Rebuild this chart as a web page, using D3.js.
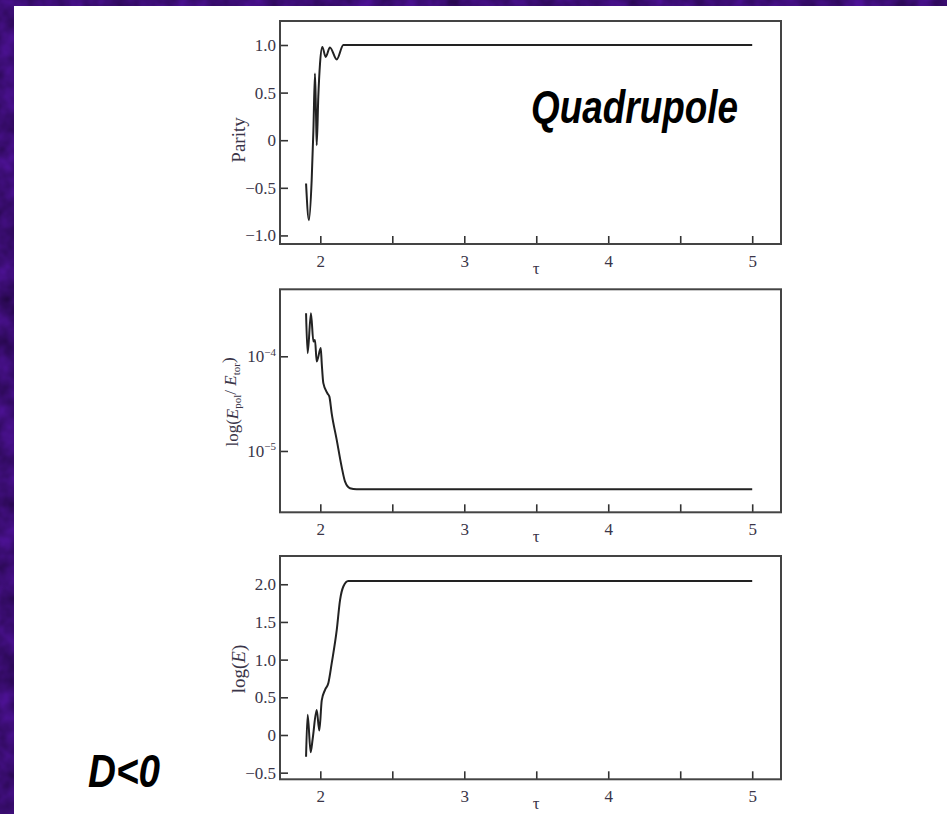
<!DOCTYPE html>
<html>
<head>
<meta charset="utf-8">
<script src="https://cdn.jsdelivr.net/npm/d3@7"></script>
<style>
  html, body { margin: 0; padding: 0; background: #3a0c78; }
  svg { display: block; }
</style>
</head>
<body>
<svg id="chart" width="947" height="814"></svg>
<script>
// Time axis τ (shared by all three panels)
const tauTicks = [2, 2.5, 3, 3.5, 4, 4.5, 5];
const tauLabels = ["2", "", "3", "", "4", "", "5"];

// Panel 1: parity vs τ
const parityTau = [1.901, 1.921, 1.940, 1.952, 1.963, 1.970, 1.975, 1.986, 1.998, 2.014, 2.037, 2.067, 2.114, 2.160, 2.180, 5.0];
const parityVal = [-0.455, -0.840, -0.42, 0.105, 0.70, 0.28, -0.053, 0.455, 0.806, 0.98, 0.875, 0.974, 0.848, 1.0, 1.0, 1.0];
const parityTicks = [1.0, 0.5, 0, -0.5, -1.0];
const parityTickLabels = ["1.0", "0.5", "0", "\u22120.5", "\u22121.0"];

// Panel 2: ratio of poloidal to toroidal energy (log scale)
const ratioTau = [1.901, 1.912, 1.935, 1.952, 1.963, 1.975, 2.003, 2.010, 2.021, 2.049, 2.063, 2.079, 2.114, 2.148, 2.172, 2.206, 2.252, 5.0];
const ratioVal = [2.85e-4, 1.08e-4, 2.85e-4, 1.43e-4, 1.49e-4, 8.8e-5, 1.22e-4, 8.4e-5, 5.2e-5, 4.07e-5, 3.75e-5, 2.50e-5, 1.31e-5, 6.83e-6, 4.74e-6, 4.04e-6, 3.94e-6, 3.94e-6];
const ratioTicks = [1e-4, 1e-5];
const ratioTickExp = ["\u22124", "\u22125"];

// Panel 3: log of total magnetic energy
const energyTau = [1.901, 1.912, 1.933, 1.947, 1.975, 1.993, 2.010, 2.033, 2.056, 2.079, 2.114, 2.137, 2.160, 2.194, 2.264, 5.0];
const energyVal = [-0.29, 0.27, -0.23, -0.05, 0.33, 0.06, 0.46, 0.60, 0.69, 0.95, 1.39, 1.79, 1.97, 2.044, 2.044, 2.044];
const energyTicks = [2.0, 1.5, 1.0, 0.5, 0, -0.5];
const energyTickLabels = ["2.0", "1.5", "1.0", "0.5", "0", "\u22120.5"];

const svg = d3.select("#chart");
const W = 947, H = 814;

// Mottled purple backdrop with a white sheet on top
const defs = svg.append("defs");
const filt = defs.append("filter").attr("id", "purpleNoise")
  .attr("x", 0).attr("y", 0).attr("width", "100%").attr("height", "100%")
  .attr("color-interpolation-filters", "sRGB");
filt.append("feTurbulence").attr("type", "fractalNoise")
  .attr("baseFrequency", 0.045).attr("numOctaves", 3).attr("seed", 7);
filt.append("feColorMatrix").attr("type", "matrix")
  .attr("values", "0.22 0 0 0 0.12  0.06 0 0 0 0.02  0.42 0 0 0 0.24  0 0 0 0 1");
svg.append("rect").attr("width", W).attr("height", H).attr("filter", "url(#purpleNoise)");
svg.append("rect").attr("x", 14).attr("y", 6).attr("width", W - 14).attr("height", H - 6).attr("fill", "#ffffff");

const x = d3.scaleLinear().domain([1.72, 5.2]).range([280, 781]);

const textColor = "#3a3548";
const serif = "'Liberation Serif', 'Times New Roman', serif";

function panel(cfg) {
  const g = svg.append("g");
  const y = cfg.y;
  const [yb, yt] = y.range();

  // bottom axis with inward ticks
  const xAxis = d3.axisBottom(x).tickValues(tauTicks)
    .tickFormat((d, i) => tauLabels[i]).tickSizeInner(-8).tickSizeOuter(0).tickPadding(18);
  const gx = g.append("g").attr("transform", `translate(0,${yb})`).call(xAxis);
  gx.select(".domain").remove();
  gx.selectAll(".tick line").attr("stroke", "#333").attr("stroke-width", 1.6);
  gx.selectAll(".tick text").attr("font-family", serif).attr("font-size", 17)
    .attr("fill", textColor).attr("dy", "0.3em");

  // left axis with inward ticks
  const yAxis = d3.axisLeft(y).tickValues(cfg.ticks)
    .tickFormat((d, i) => cfg.labels ? cfg.labels[i] : "").tickSizeInner(-8).tickSizeOuter(0).tickPadding(4);
  const gy = g.append("g").attr("transform", "translate(280,0)").call(yAxis);
  gy.select(".domain").remove();
  gy.selectAll(".tick line").attr("stroke", "#333").attr("stroke-width", 1.6);
  const ty = gy.selectAll(".tick text").attr("font-family", serif).attr("font-size", 17).attr("fill", textColor);
  if (cfg.exps) {
    ty.text(null).each(function (d, i) {
      const t = d3.select(this);
      t.append("tspan").text("10");
      t.append("tspan").attr("font-size", 11).attr("dy", "-0.6em").text(cfg.exps[i]);
    });
  }

  // frame
  g.append("rect").attr("x", 280).attr("y", yt).attr("width", 781 - 280).attr("height", yb - yt)
    .attr("fill", "none").attr("stroke", "#444").attr("stroke-width", 2);

  // curve
  const pts = cfg.tau.map((t, i) => [t, cfg.val[i]]);
  const line = d3.line().x(d => x(d[0])).y(d => y(d[1])).curve(d3.curveMonotoneX);
  g.append("path").datum(pts).attr("d", line).attr("fill", "none")
    .attr("stroke", "#222").attr("stroke-width", 2).attr("stroke-linejoin", "round");

  // τ label
  g.append("text").attr("x", x(3.5)).attr("y", yb + 30).attr("text-anchor", "middle")
    .attr("font-family", serif).attr("font-size", 17).attr("fill", textColor).text("\u03c4");

  // y label (rotated)
  const yl = g.append("text").attr("transform", `translate(${cfg.labelX},${cfg.labelY}) rotate(-90)`)
    .attr("text-anchor", "middle").attr("font-family", serif).attr("font-size", cfg.labelSize).attr("fill", textColor);
  cfg.yLabel(yl);
  return g;
}

panel({
  y: d3.scaleLinear().domain([-1.09, 1.252]).range([244, 21]),
  ticks: parityTicks, labels: parityTickLabels,
  tau: parityTau, val: parityVal,
  labelX: 245, labelY: 140, labelSize: 19,
  yLabel: t => t.text("Parity")
});

panel({
  y: d3.scaleLog().domain([2.25e-6, 5.1e-4]).range([512.3, 289.3]),
  ticks: ratioTicks, labels: null, exps: ratioTickExp,
  tau: ratioTau, val: ratioVal,
  labelX: 238, labelY: 402, labelSize: 17,
  yLabel: t => {
    t.append("tspan").text("log(");
    t.append("tspan").attr("font-style", "italic").text("E");
    t.append("tspan").attr("font-size", 11).attr("dy", "0.3em").text("pol");
    t.append("tspan").attr("dy", "-0.3em").text("/ ");
    t.append("tspan").attr("font-style", "italic").text("E");
    t.append("tspan").attr("font-size", 11).attr("dy", "0.3em").text("tor");
    t.append("tspan").attr("dy", "-0.3em").text(")");
  }
});

panel({
  y: d3.scaleLinear().domain([-0.588, 2.375]).range([779.3, 556]),
  ticks: energyTicks, labels: energyTickLabels,
  tau: energyTau, val: energyVal,
  labelX: 245, labelY: 669, labelSize: 19,
  yLabel: t => {
    t.append("tspan").text("log(");
    t.append("tspan").attr("font-style", "italic").text("E");
    t.append("tspan").text(")");
  }
});

// annotations
const sans = "'Liberation Sans', Arial, sans-serif";
svg.append("text").attr("x", 738).attr("y", 123).attr("text-anchor", "end")
  .attr("font-family", sans).attr("font-weight", "bold").attr("font-style", "italic")
  .attr("font-size", 46).attr("textLength", 207).attr("lengthAdjust", "spacingAndGlyphs")
  .attr("fill", "#000").text("Quadrupole");
svg.append("text").attr("x", 88).attr("y", 787)
  .attr("font-family", sans).attr("font-weight", "bold").attr("font-style", "italic")
  .attr("font-size", 47).attr("textLength", 72).attr("lengthAdjust", "spacingAndGlyphs")
  .attr("fill", "#000").text("D<0");
</script>
</body>
</html>
